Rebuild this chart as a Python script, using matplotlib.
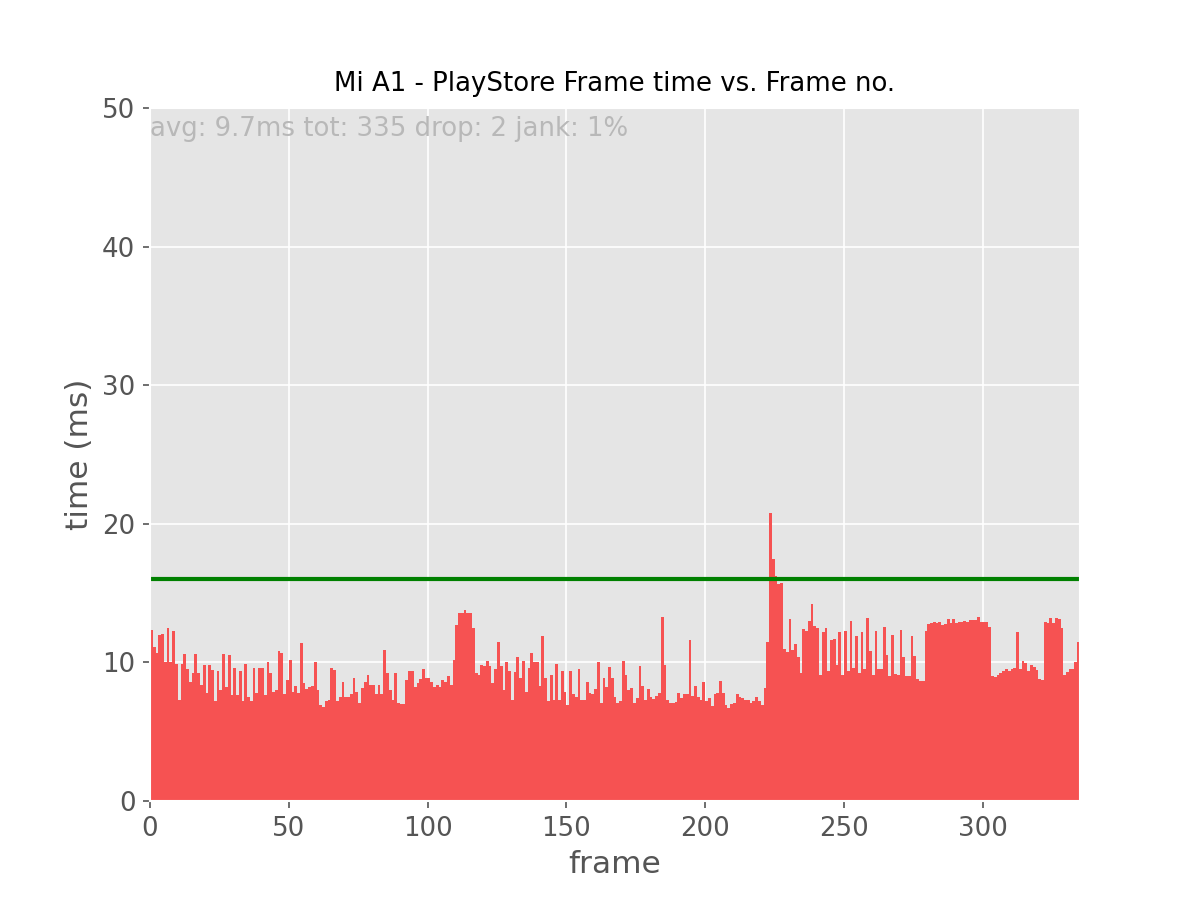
import numpy as np
import matplotlib
matplotlib.use("Agg")
import matplotlib.pyplot as plt

# frame times in ms
frame_times = [
    12.35, 11.1, 10.7, 12.0, 12.05, 10.05, 12.5, 10.05, 12.3, 9.9,
    7.3, 9.9, 10.6, 9.5, 8.6, 9.25, 10.6, 9.25, 8.4, 9.8,
    7.8, 9.8, 9.45, 7.2, 9.4, 8.0, 10.6, 8.25, 10.5, 7.65,
    9.6, 7.65, 9.4, 7.25, 9.9, 7.5, 7.25, 9.6, 7.8, 9.6,
    9.6, 7.65, 10.0, 9.2, 7.9, 8.0, 10.8, 10.7, 7.7, 8.7,
    10.2, 7.85, 8.3, 7.8, 11.4, 8.5, 8.1, 8.25, 8.3, 10.05,
    8.0, 6.95, 6.8, 7.25, 7.3, 9.6, 9.45, 7.25, 7.5, 8.55,
    7.5, 7.5, 7.7, 8.9, 7.9, 7.05, 8.15, 8.6, 9.1, 8.4,
    8.4, 7.7, 8.4, 7.75, 10.9, 9.2, 8.0, 7.3, 9.25, 7.05,
    7.0, 7.0, 8.7, 9.4, 9.4, 8.2, 8.5, 8.8, 9.5, 8.9,
    8.9, 8.6, 8.2, 8.4, 8.25, 8.7, 8.55, 9.0, 8.35, 10.2,
    12.7, 13.55, 13.55, 13.8, 13.6, 13.6, 12.5, 9.2, 9.1, 9.8,
    9.75, 10.1, 9.75, 8.5, 9.5, 11.5, 9.75, 8.0, 10.0, 9.4,
    7.3, 9.3, 10.4, 8.9, 10.1, 7.9, 9.6, 10.7, 10.0, 10.05,
    8.3, 11.9, 8.9, 7.25, 9.1, 7.3, 9.9, 7.3, 9.4, 7.9,
    6.95, 9.4, 7.75, 7.5, 9.5, 7.3, 7.3, 8.6, 7.8, 7.7,
    8.05, 10.0, 7.1, 8.9, 8.2, 9.7, 8.9, 7.5, 7.05, 7.25,
    10.1, 9.1, 8.0, 8.15, 7.1, 7.4, 9.75, 8.3, 7.3, 8.1,
    7.5, 7.35, 7.6, 7.8, 13.3, 9.8, 7.3, 7.05, 7.05, 7.15,
    7.8, 7.4, 7.75, 7.7, 11.6, 7.6, 8.3, 7.5, 7.3, 8.6,
    7.2, 7.4, 6.85, 7.7, 7.8, 8.65, 7.8, 6.95, 6.7, 7.0,
    7.05, 7.7, 7.5, 7.4, 7.3, 7.3, 7.05, 7.2, 7.5, 7.25,
    6.95, 8.15, 11.45, 20.8, 17.45, 16.2, 15.65, 15.7, 11.0, 10.75,
    13.15, 10.9, 11.3, 10.4, 9.25, 12.4, 12.25, 13.0, 14.2, 12.6,
    12.5, 9.1, 12.2, 12.45, 9.35, 11.6, 11.7, 9.8, 12.2, 9.1,
    12.3, 9.4, 13.0, 9.6, 11.9, 9.25, 12.2, 9.5, 13.2, 10.85,
    9.1, 12.3, 9.5, 9.55, 12.55, 10.5, 9.0, 11.95, 9.15, 9.1,
    12.35, 10.4, 9.0, 9.0, 11.9, 10.45, 8.8, 8.65, 8.65, 12.3,
    12.8, 12.85, 12.95, 12.85, 12.95, 12.7, 12.8, 13.1, 12.85, 13.1,
    12.85, 12.9, 12.9, 13.0, 12.9, 13.05, 13.05, 13.05, 13.3, 12.95,
    12.95, 12.9, 12.55,
    9.0, 8.95, 9.1, 9.25, 9.4, 9.5, 9.35, 9.5, 9.6, 12.2,
    9.5, 10.1, 9.95, 9.35, 9.8, 9.65, 9.45, 8.8, 8.75, 12.95,
    12.85, 13.2, 12.85, 13.2, 13.15, 12.5, 9.1, 9.3, 9.5, 9.5,
    10.05, 11.5,
]
frame_budget = 16
stats_text = "avg: 9.7ms tot: 335 drop: 2 jank: 1%"

plt.style.use("ggplot")
fig = plt.figure(figsize=(8, 6), dpi=150)

frames = np.arange(len(frame_times))
plt.bar(frames, frame_times, width=1.0, align="edge", color="#f65252", linewidth=0)
plt.axhline(frame_budget, color="green", linewidth=2)

plt.text(0, 48, stats_text, color="#b8b8b8", fontsize=12.5)
plt.title("Mi A1 - PlayStore Frame time vs. Frame no.", fontsize=12.5, color="black", pad=8)
plt.xlabel("frame", fontsize=15)
plt.ylabel("time (ms)", fontsize=15)
plt.xlim(0, len(frame_times))
plt.ylim(0, 50)
plt.xticks(fontsize=12.5)
plt.yticks(fontsize=12.5)

plt.savefig("out.png", dpi=150)
